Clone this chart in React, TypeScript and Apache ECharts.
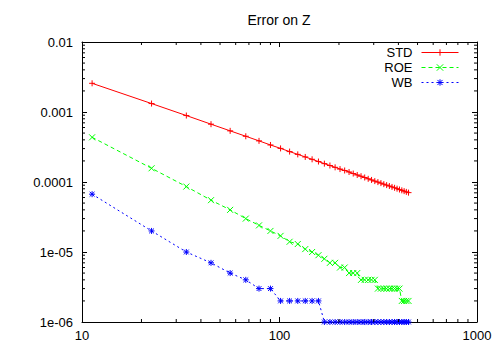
import { useEffect, useRef } from 'react';
import * as echarts from 'echarts';

const FONT = '"Liberation Sans", Arial, Helvetica, sans-serif';

const titleText = 'Error on Z';
const seriesNames = ['STD', 'ROE', 'WB'];
const seriesColors = ['#ff0000', '#00ff00', '#0000ff'];

const xValues = [
  11.25, 22.5, 33.75, 45, 56.25, 67.5, 78.75, 90, 101.25, 112.5,
  123.75, 135, 146.25, 157.5, 168.75, 180, 191.25, 202.5, 213.75, 225,
  236.25, 247.5, 258.75, 270, 281.25, 292.5, 303.75, 315, 326.25, 337.5,
  348.75, 360, 371.25, 382.5, 393.75, 405, 416.25, 427.5, 438.75, 450,
];

const stdValues = [
  2.57e-3, 1.32e-3, 8.9e-4, 6.7e-4, 5.38e-4, 4.5e-4, 3.87e-4, 3.38e-4, 3.02e-4, 2.72e-4,
  2.48e-4, 2.28e-4, 2.11e-4, 1.96e-4, 1.83e-4, 1.72e-4, 1.62e-4, 1.53e-4, 1.46e-4, 1.39e-4,
  1.32e-4, 1.26e-4, 1.21e-4, 1.16e-4, 1.11e-4, 1.07e-4, 1.03e-4, 9.97e-5, 9.64e-5, 9.32e-5,
  9.03e-5, 8.76e-5, 8.5e-5, 8.26e-5, 8.03e-5, 7.81e-5, 7.6e-5, 7.41e-5, 7.22e-5, 7.05e-5,
];

const roeValues = [
  4.35e-4, 1.57e-4, 8.6e-5, 5.5e-5, 4.0e-5, 3.0e-5, 2.4e-5, 2.0e-5, 1.7e-5, 1.4e-5,
  1.3e-5, 1.1e-5, 1.0e-5, 9e-6, 8e-6, 7e-6, 7e-6, 6e-6, 6e-6, 5e-6,
  5e-6, 5e-6, 4e-6, 4e-6, 4e-6, 4e-6, 4e-6, 3e-6, 3e-6, 3e-6,
  3e-6, 3e-6, 3e-6, 3e-6, 3e-6, 3e-6, 2e-6, 2e-6, 2e-6, 2e-6,
];

const wbValues = [
  6.7e-5, 2.0e-5, 1.0e-5, 7e-6, 5e-6, 4e-6, 3e-6, 3e-6, 2e-6, 2e-6,
  2e-6, 2e-6, 2e-6, 2e-6, 1e-6, 1e-6, 1e-6, 1e-6, 1e-6, 1e-6,
  1e-6, 1e-6, 1e-6, 1e-6, 1e-6, 1e-6, 1e-6, 1e-6, 1e-6, 1e-6,
  1e-6, 1e-6, 1e-6, 1e-6, 1e-6, 1e-6, 1e-6, 1e-6, 1e-6, 1e-6,
];

const xMin = 10;
const xMax = 1000;
const yMin = 1e-6;
const yMax = 1e-2;
const yTickExponents = [-6, -5, -4, -3, -2];
const yTickLabels = ['1e-06', '1e-05', '0.0001', '0.001', '0.01'];
const xTickLabels = ['10', '100', '1000'];
const xDecades = [10, 100];
const yDecades = [1e-6, 1e-5, 1e-4, 1e-3];
const minorMultipliers = [2, 3, 4, 5, 6, 7, 8, 9];

const PLUS = 'path://M0,5L10,5M5,0L5,10';
const CROSS = 'path://M0,0L10,10M10,0L0,10';
const STAR = 'path://M0,5L10,5M5,0L5,10M1,1L9,9M9,1L1,9';
const seriesSymbols = [PLUS, CROSS, STAR];
const seriesDash: any[] = ['solid', [4, 3], [2, 3]];
const seriesData = [stdValues, roeValues, wbValues];

export default function App() {
  const ref = useRef<HTMLDivElement>(null);

  useEffect(() => {
    if (!ref.current) return;
    const chart = echarts.init(ref.current, undefined, { renderer: 'svg' });

    const xMinor: number[][] = [];
    xDecades.forEach((d) => minorMultipliers.forEach((k) => xMinor.push([k * d, yMin])));
    const yMinor: number[][] = [];
    yDecades.forEach((d) => minorMultipliers.forEach((k) => yMinor.push([xMin, k * d])));

    const tickStyle = { stroke: '#000', lineWidth: 1 };
    const MINOR = 3;

    const axisCommon = {
      axisLine: { show: true, lineStyle: { color: '#000', width: 1 } },
      axisTick: { show: true, inside: true, length: 5, lineStyle: { color: '#000', width: 1 } },
      splitLine: { show: false },
      minorTick: { show: false },
    };

    const xLabel = (v: number) => {
      const e = Math.round(Math.log10(v));
      return xTickLabels[e - 1] ?? '';
    };
    const yLabel = (v: number) => {
      const e = Math.round(Math.log10(v));
      const i = yTickExponents.indexOf(e);
      return i >= 0 ? yTickLabels[i] : '';
    };

    const lineSeries = seriesNames.map((name, i) => ({
      name,
      type: 'line',
      xAxisIndex: 0,
      yAxisIndex: 0,
      data: xValues.map((x, j) => [x, seriesData[i][j]]),
      symbol: seriesSymbols[i],
      symbolSize: 6,
      showSymbol: true,
      clip: false,
      lineStyle: { color: seriesColors[i], width: 1, type: seriesDash[i] },
      itemStyle: { color: seriesColors[i], borderColor: seriesColors[i], borderWidth: 1 },
      emphasis: { disabled: true },
      z: 3,
    }));

    const option: any = {
      animation: false,
      backgroundColor: '#ffffff',
      textStyle: { fontFamily: FONT },
      grid: { left: 82, right: 23, top: 42, bottom: 28, containLabel: false },
      graphic: [
        {
          type: 'text',
          x: 279,
          y: 20,
          style: {
            text: titleText,
            fill: '#000',
            font: `14px ${FONT}`,
            align: 'center',
            verticalAlign: 'middle',
            textAlign: 'center',
            textVerticalAlign: 'middle',
          },
        },
      ],
      legend: {
        data: seriesNames,
        orient: 'vertical',
        right: 41,
        top: 46,
        align: 'right',
        itemWidth: 37,
        itemHeight: 8,
        itemGap: 2,
        padding: 0,
        selectedMode: false,
        lineStyle: { width: 1 },
        itemStyle: { borderWidth: 1 },
        textStyle: { fontSize: 13, fontFamily: FONT, color: '#000', padding: [0, 4, 0, 0] },
      },
      xAxis: [
        {
          type: 'log',
          logBase: 10,
          min: xMin,
          max: xMax,
          position: 'bottom',
          ...axisCommon,
          axisLabel: {
            show: true,
            margin: 7,
            color: '#000',
            fontSize: 13,
            fontFamily: FONT,
            formatter: xLabel,
          },
        },
        {
          type: 'log',
          logBase: 10,
          min: xMin,
          max: xMax,
          position: 'top',
          ...axisCommon,
          axisLabel: { show: false },
        },
      ],
      yAxis: [
        {
          type: 'log',
          logBase: 10,
          min: yMin,
          max: yMax,
          position: 'left',
          ...axisCommon,
          axisLabel: {
            show: true,
            margin: 9,
            color: '#000',
            fontSize: 13,
            fontFamily: FONT,
            formatter: yLabel,
          },
        },
        {
          type: 'log',
          logBase: 10,
          min: yMin,
          max: yMax,
          position: 'right',
          ...axisCommon,
          axisLabel: { show: false },
        },
      ],
      series: [
        ...lineSeries,
        {
          type: 'custom',
          name: 'xMinorTicks',
          silent: true,
          clip: false,
          xAxisIndex: 0,
          yAxisIndex: 0,
          data: xMinor,
          z: 5,
          renderItem: (_p: any, api: any) => {
            const x = api.value(0);
            const b = api.coord([x, yMin]);
            const t = api.coord([x, yMax]);
            return {
              type: 'group',
              children: [
                { type: 'line', shape: { x1: b[0], y1: b[1], x2: b[0], y2: b[1] - MINOR }, style: tickStyle },
                { type: 'line', shape: { x1: t[0], y1: t[1], x2: t[0], y2: t[1] + MINOR }, style: tickStyle },
              ],
            };
          },
        },
        {
          type: 'custom',
          name: 'yMinorTicks',
          silent: true,
          clip: false,
          xAxisIndex: 0,
          yAxisIndex: 0,
          data: yMinor,
          z: 5,
          renderItem: (_p: any, api: any) => {
            const y = api.value(1);
            const l = api.coord([xMin, y]);
            const r = api.coord([xMax, y]);
            return {
              type: 'group',
              children: [
                { type: 'line', shape: { x1: l[0], y1: l[1], x2: l[0] + MINOR, y2: l[1] }, style: tickStyle },
                { type: 'line', shape: { x1: r[0], y1: r[1], x2: r[0] - MINOR, y2: r[1] }, style: tickStyle },
              ],
            };
          },
        },
      ],
    };

    chart.setOption(option);
    return () => {
      chart.dispose();
    };
  }, []);

  return (
    <div
      ref={ref}
      style={{ position: 'fixed', left: 0, top: 0, width: 500, height: 350, background: '#fff' }}
    />
  );
}
